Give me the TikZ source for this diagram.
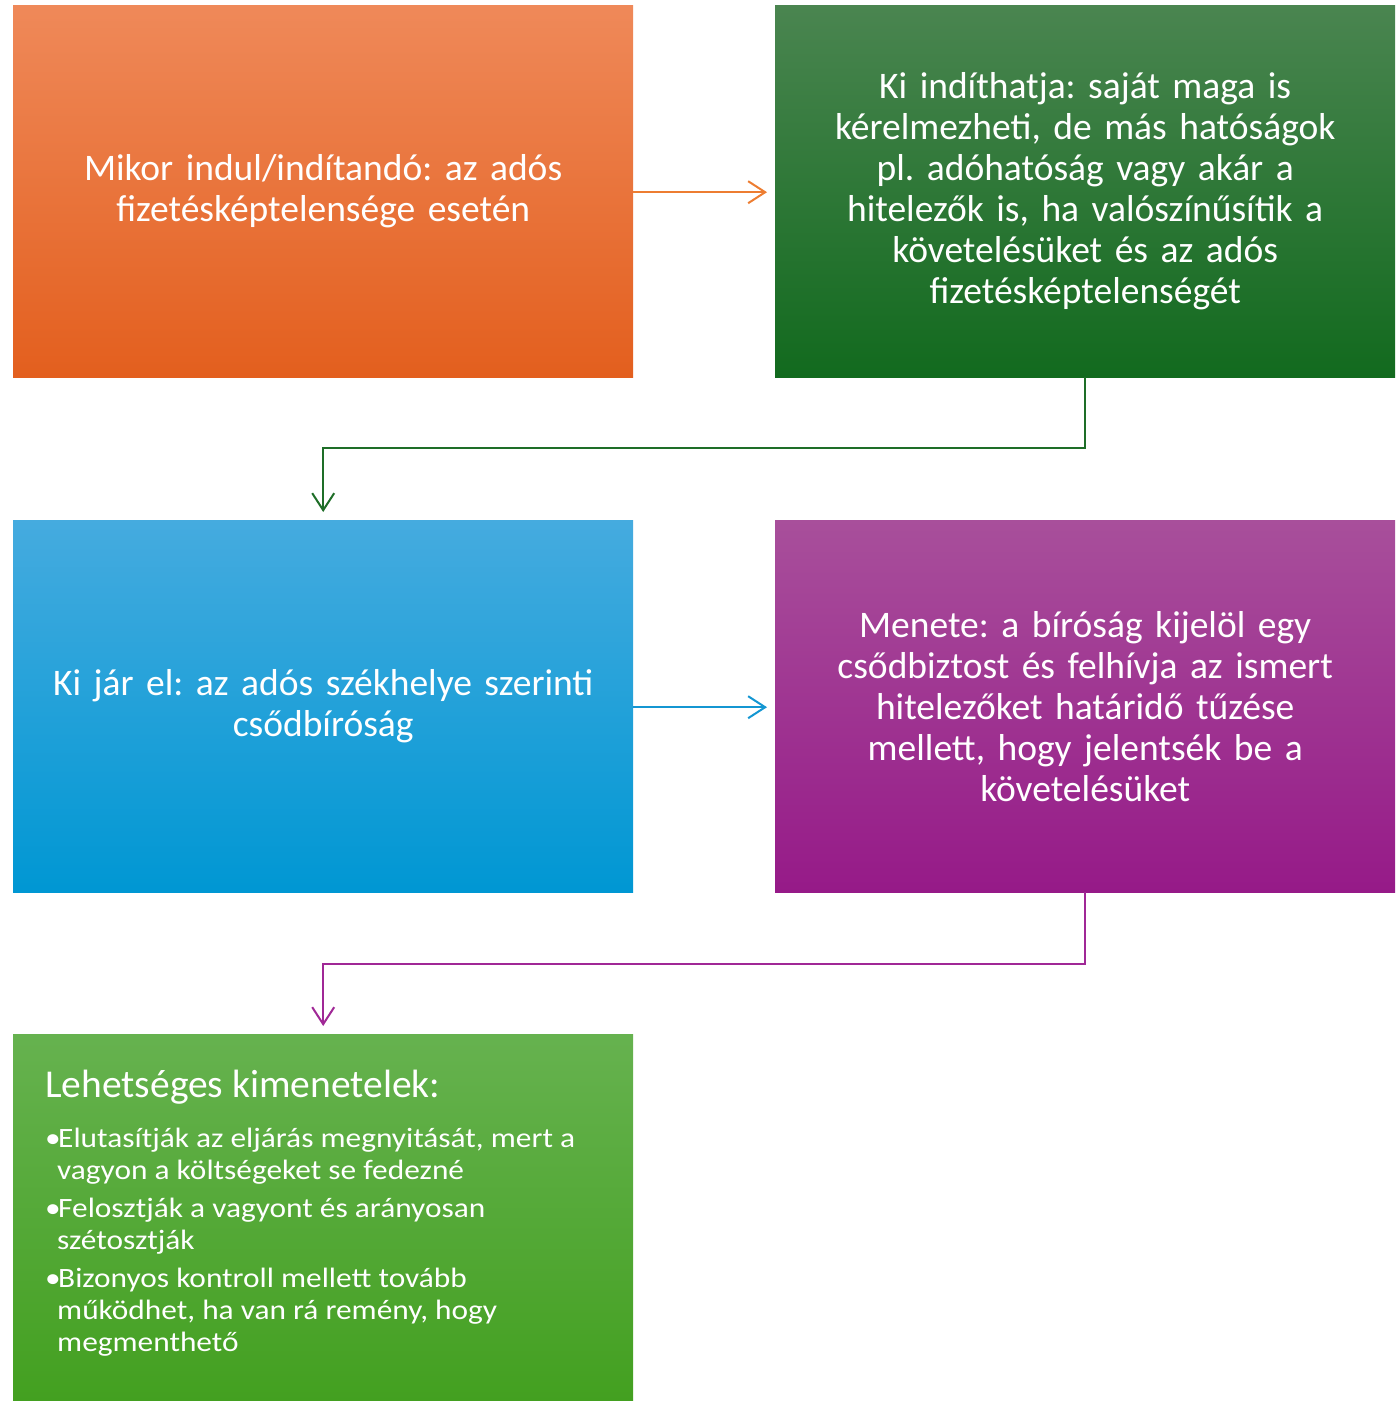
\documentclass[tikz,border=0pt]{standalone}
\usepackage{fontspec}
\setmainfont{Carlito}
\newfontfamily\widefont[FakeStretch=1.12]{Carlito}
\frenchspacing
\usetikzlibrary{arrows.meta}
\definecolor{orT}{RGB}{239,137,89}
\definecolor{orB}{RGB}{227,95,30}
\definecolor{dgT}{RGB}{74,133,80}
\definecolor{dgB}{RGB}{18,106,30}
\definecolor{blT}{RGB}{69,171,223}
\definecolor{blB}{RGB}{0,151,211}
\definecolor{puT}{RGB}{168,79,155}
\definecolor{puB}{RGB}{150,26,136}
\definecolor{lgT}{RGB}{102,178,79}
\definecolor{lgB}{RGB}{67,160,32}
\definecolor{orL}{RGB}{237,125,49}
\definecolor{dgL}{RGB}{30,110,40}
\definecolor{blL}{RGB}{20,150,210}
\definecolor{puL}{RGB}{160,40,150}
\tikzset{
  boxA/.style={draw=none, minimum width=620pt, minimum height=372pt, inner sep=0pt,
    text width=610pt, align=center, text=white,
    font=\fontsize{37.5}{41}\selectfont\frenchspacing, anchor=north west},
  conn/.style={line width=2pt, -{Straight Barb[length=17pt,width=22pt,line width=2pt]}},
  line5/.style={anchor=base west, inner sep=0pt, text=white, font=\widefont\fontsize{28}{32}\selectfont\frenchspacing}
}
\begin{document}
\begin{tikzpicture}[x=1pt,y=-1pt]
\useasboundingbox (0,0) rectangle (1399,1401);
\node[boxA, top color=orT, bottom color=orB] (b1) at (13,5)
  {Mikor indul/indítandó: az adós\\fizetésképtelensége esetén};
\node[boxA, top color=dgT, bottom color=dgB] (b2) at (775,5)
  {Ki indíthatja: saját maga is\\kérelmezheti, de más hatóságok\\pl. adóhatóság vagy akár a\\hitelezők is, ha valószínűsítik a\\követelésüket és az adós\\fizetésképtelenségét};
\node[boxA, top color=blT, bottom color=blB] (b3) at (13,520)
  {Ki jár el: az adós székhelye szerinti\\csődbíróság};
\node[boxA, top color=puT, bottom color=puB] (b4) at (775,520)
  {Menete: a bíróság kijelöl egy\\csődbiztost és felhívja az ismert\\hitelezőket határidő tűzése\\mellett, hogy jelentsék be a\\követelésüket};
\node[boxA, minimum height=367pt, top color=lgT, bottom color=lgB] (b5) at (13,1034) {};
\node[anchor=base west, inner sep=0pt, text=white, font=\fontsize{39.5}{44}\selectfont\frenchspacing] (t0) at (45,1097) {Lehetséges kimenetelek:};
\node[line5] (t1) at (45,1147) {\makebox[13pt][l]{•}Elutasítják az eljárás megnyitását, mert a};
\node[line5] (t2) at (57,1179) {vagyon a költségeket se fedezné};
\node[line5] (t3) at (45,1217) {\makebox[13pt][l]{•}Felosztják a vagyont és arányosan};
\node[line5] (t4) at (57,1249) {szétosztják};
\node[line5] (t5) at (45,1287) {\makebox[13pt][l]{•}Bizonyos kontroll mellett tovább};
\node[line5] (t6) at (57,1319) {működhet, ha van rá remény, hogy};
\node[line5] (t7) at (57,1351) {megmenthető};
\draw[conn, orL, shorten >=8pt] ([yshift=-1pt]b1.east) -- ([yshift=-1pt]b2.west);
\draw[conn, blL, shorten >=8pt] ([yshift=-1pt]b3.east) -- ([yshift=-1pt]b4.west);
\draw[conn, dgL, shorten >=8pt] (b2.south) -- ++(0,71) -| (b3.north);
\draw[conn, puL, shorten >=8pt] (b4.south) -- ++(0,72) -| (b5.north);
\end{tikzpicture}
\end{document}
